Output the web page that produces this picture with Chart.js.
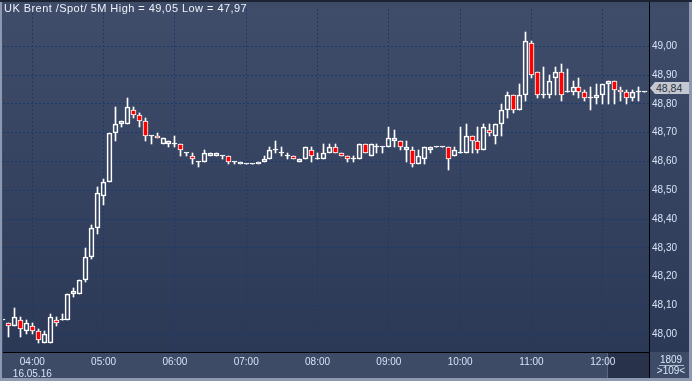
<!DOCTYPE html>
<html>
<head>
<meta charset="utf-8">
<script src="https://cdn.jsdelivr.net/npm/chart.js@4.4.1/dist/chart.umd.min.js"></script>
<style>
  html, body { margin: 0; padding: 0; background: #3e4b67; }
  #wrap { position: relative; width: 692px; height: 381px; overflow: hidden; }
  #wrap canvas { display: block; }
  .lbl { position: absolute; font-family: "Liberation Sans", Arial, sans-serif; font-size: 10px; color: #dbe6f6; white-space: nowrap; line-height: 11px; }
  #title { left: 4px; top: 3px; color: #eef2f9; font-size: 11px; letter-spacing: 0.45px; }
  #tag { left: 655px; top: 82px; width: 34px; height: 12px; background: #c4c8d0; color: #2a3242; padding-left: 1px; box-sizing: border-box; line-height: 12px; font-size: 10.5px; }
  #tag:before { content: ""; position: absolute; left: -5px; top: 0; border-style: solid; border-width: 6px 5px 6px 0; border-color: transparent #c4c8d0 transparent transparent; }
  #cnt { left: 656px; top: 354px; width: 30px; text-align: center; }
  #cntline { position: absolute; left: 659px; top: 365px; width: 25px; height: 1px; background: #aab6ca; }
  #bars { left: 656px; top: 365px; width: 30px; text-align: center; }
</style>
</head>
<body>
<div id="wrap">
  <canvas id="chart" width="692" height="381"></canvas>
  <div class="lbl" id="title">UK Brent /Spot/ 5M High = 49,05 Low = 47,97</div>
  <div class="lbl" id="tag">48,84</div>
  <div class="lbl" id="cnt">1809</div>
  <div id="cntline"></div>
  <div class="lbl" id="bars">&gt;109&lt;</div>
</div>
<script>
// 5 minute candles, 16.05.16
const times = [
  '03:35','03:40','03:45','03:50','03:55',
  '04:00','04:05','04:10','04:15','04:20','04:25','04:30','04:35','04:40','04:45','04:50','04:55',
  '05:00','05:05','05:10','05:15','05:20','05:25','05:30','05:35','05:40','05:45','05:50','05:55',
  '06:00','06:05','06:10','06:15','06:20','06:25','06:30','06:35','06:40','06:45','06:50','06:55',
  '07:00','07:05','07:10','07:15','07:20','07:25','07:30','07:35','07:40','07:45','07:50','07:55',
  '08:00','08:05','08:10','08:15','08:20','08:25','08:30','08:35','08:40','08:45','08:50','08:55',
  '09:00','09:05','09:10','09:15','09:20','09:25','09:30','09:35','09:40','09:45','09:50','09:55',
  '10:00','10:05','10:10','10:15','10:20','10:25','10:30','10:35','10:40','10:45','10:50','10:55',
  '11:00','11:05','11:10','11:15','11:20','11:25','11:30','11:35','11:40','11:45','11:50','11:55',
  '12:00','12:05','12:10','12:15','12:20','12:25','12:30','12:35'
];
const open = [
  48.05,48.04,48.03,48.05,48.01,
  48.03,48.01,47.97,47.97,48.05,48.05,48.05,48.14,48.14,48.19,48.27,48.37,
  48.48,48.53,48.70,48.73,48.73,48.78,48.76,48.74,48.69,48.69,48.66,48.66,
  48.66,48.66,48.63,48.62,48.60,48.60,48.62,48.62,48.62,48.62,48.60,48.59,
  48.59,48.59,48.59,48.60,48.61,48.64,48.63,48.62,48.62,48.60,48.61,48.64,
  48.61,48.61,48.63,48.65,48.63,48.62,48.61,48.61,48.66,48.62,48.65,48.65,
  48.65,48.67,48.67,48.64,48.64,48.59,48.61,48.64,48.65,48.65,48.65,48.62,
  48.63,48.63,48.69,48.67,48.64,48.71,48.69,48.73,48.78,48.83,48.78,48.83,
  49.01,48.91,48.83,48.83,48.89,48.91,48.84,48.84,48.86,48.84,48.82,48.82,
  48.83,48.87,48.88,48.85,48.84,48.82,48.84,48.84
];
const high = [
  48.05,48.04,48.09,48.06,48.05,
  48.04,48.02,48.01,48.07,48.06,48.07,48.14,48.16,48.19,48.30,48.38,48.51,
  48.54,48.70,48.79,48.74,48.82,48.79,48.77,48.75,48.69,48.70,48.68,48.67,
  48.69,48.66,48.63,48.63,48.60,48.64,48.63,48.63,48.62,48.62,48.60,48.60,
  48.59,48.59,48.60,48.62,48.65,48.67,48.65,48.63,48.62,48.61,48.65,48.65,
  48.63,48.66,48.66,48.66,48.63,48.62,48.62,48.66,48.66,48.66,48.66,48.65,
  48.72,48.71,48.67,48.67,48.65,48.64,48.65,48.65,48.65,48.65,48.65,48.65,
  48.72,48.73,48.69,48.72,48.73,48.73,48.73,48.80,48.84,48.83,48.87,49.05,
  49.02,48.91,48.93,48.90,48.93,48.94,48.92,48.88,48.89,48.85,48.86,48.87,
  48.87,48.88,48.88,48.86,48.85,48.85,48.86,48.84
];
const low = [
  48.05,47.99,48.03,47.99,48.00,
  48.00,47.97,47.97,47.97,48.03,48.05,48.05,48.13,48.14,48.18,48.26,48.35,
  48.45,48.53,48.67,48.72,48.73,48.75,48.72,48.67,48.66,48.68,48.66,48.65,
  48.65,48.62,48.62,48.59,48.58,48.60,48.62,48.62,48.61,48.59,48.59,48.59,
  48.59,48.59,48.59,48.60,48.61,48.63,48.62,48.61,48.61,48.60,48.61,48.60,
  48.61,48.61,48.63,48.63,48.62,48.60,48.60,48.61,48.63,48.62,48.63,48.63,
  48.65,48.65,48.64,48.60,48.58,48.59,48.59,48.63,48.65,48.65,48.57,48.62,
  48.63,48.63,48.63,48.63,48.64,48.69,48.66,48.69,48.75,48.77,48.78,48.81,
  48.89,48.82,48.82,48.82,48.83,48.81,48.84,48.83,48.82,48.81,48.78,48.80,
  48.80,48.80,48.80,48.81,48.80,48.81,48.81,48.84
];
const close = [
  48.05,48.03,48.06,48.02,48.04,
  48.01,47.98,48.00,48.06,48.04,48.05,48.14,48.15,48.19,48.27,48.37,48.49,
  48.53,48.70,48.73,48.74,48.79,48.76,48.74,48.69,48.69,48.68,48.68,48.67,
  48.66,48.64,48.63,48.61,48.60,48.63,48.63,48.63,48.62,48.60,48.60,48.60,
  48.59,48.59,48.60,48.61,48.64,48.64,48.63,48.62,48.61,48.61,48.65,48.62,
  48.61,48.63,48.65,48.63,48.62,48.61,48.61,48.66,48.63,48.66,48.65,48.65,
  48.68,48.68,48.65,48.65,48.59,48.62,48.65,48.65,48.65,48.65,48.61,48.64,
  48.63,48.69,48.67,48.64,48.72,48.70,48.73,48.78,48.83,48.78,48.83,49.02,
  48.90,48.83,48.83,48.88,48.91,48.83,48.84,48.86,48.84,48.82,48.82,48.83,
  48.87,48.88,48.85,48.84,48.82,48.84,48.84,48.84
];
const hourTicks = ['04:00','05:00','06:00','07:00','08:00','09:00','10:00','11:00','12:00'];
const dateLabel = '16.05.16';
const priceTicks = [48.0, 48.1, 48.2, 48.3, 48.4, 48.5, 48.6, 48.7, 48.8, 48.9, 49.0];

// visible window (minutes of day / price)
const X_MIN = 215.35, X_MAX = 758.9;
const Y_MIN = 47.9386, Y_MAX = 49.1297;

const GRID = '#1a3a6c';
const TICK = '#d6e2f5';
const FONT = { family: '"Liberation Sans", Arial, sans-serif', size: 10 };

const toMin = t => Number(t.slice(0, 2)) * 60 + Number(t.slice(3));
const fmtMin = m => String(Math.floor(m / 60)).padStart(2, '0') + ':' + String(m % 60).padStart(2, '0');

const bodies = times.map((t, i) => ({ x: toMin(t), y: [Math.min(open[i], close[i]), Math.max(open[i], close[i])] }));
const upperWicks = times.map((t, i) => ({ x: toMin(t), y: [Math.max(open[i], close[i]), high[i]] }));
const lowerWicks = times.map((t, i) => ({ x: toMin(t), y: [low[i], Math.min(open[i], close[i])] }));
const bodyFill = times.map((t, i) => close[i] < open[i] ? '#ff0000' : (close[i] === open[i] ? '#ffffff' : 'rgba(0,0,0,0)'));

const frame = {
  id: 'frame',
  beforeDraw(chart) {
    const { ctx, chartArea: a } = chart;
    ctx.save();
    ctx.fillStyle = '#3e4b67';
    ctx.fillRect(0, 0, chart.width, chart.height);
    const g = ctx.createLinearGradient(0, a.top, 0, a.bottom);
    g.addColorStop(0, '#3f4d6b');
    g.addColorStop(1, '#2b3957');
    ctx.fillStyle = g;
    ctx.fillRect(a.left, a.top, chart.width - 3 - a.left, a.bottom - a.top);
    // scroller box under the last time label
    ctx.fillStyle = '#28324a';
    ctx.fillRect(608, a.bottom, a.right - 608, chart.height - 3 - a.bottom);
    ctx.fillStyle = '#5c6680';
    ctx.fillRect(607, a.bottom, 1, chart.height - 3 - a.bottom);
    ctx.restore();
  },
  // snap candles to whole pixels so the 1px wicks and borders stay crisp
  beforeDatasetsDraw(chart) {
    chart.data.datasets.forEach((d, i) => {
      chart.getDatasetMeta(i).data.forEach(el => {
        el.x = Math.floor(el.x) + 0.5;
        const y = Math.round(el.y), b = Math.round(el.base);
        el.y = y;
        el.base = (i === 0 && y === b) ? y + 1 : b;
      });
    });
  },
  afterDraw(chart) {
    const { ctx, chartArea: a } = chart;
    ctx.save();
    ctx.fillStyle = '#000000';
    ctx.fillRect(a.right, 0, 1, chart.height - 3);
    ctx.fillRect(a.left, a.bottom, a.right - a.left, 1);
    // outer frame
    ctx.fillStyle = '#8d99b0';
    ctx.fillRect(0, 0, 2, chart.height);
    ctx.fillRect(0, chart.height - 3, chart.width, 3);
    ctx.fillRect(chart.width - 3, 0, 3, chart.height);
    ctx.fillStyle = '#1c2333';
    ctx.fillRect(0, 0, chart.width, 2);
    ctx.restore();
  }
};

new Chart(document.getElementById('chart'), {
  type: 'bar',
  data: {
    datasets: [
      { label: 'body', data: bodies, backgroundColor: bodyFill, borderColor: '#ffffff', borderWidth: 1,
        borderSkipped: false, barThickness: 5, minBarLength: 1, grouped: false },
      { label: 'upper wick', data: upperWicks, backgroundColor: '#ffffff', borderWidth: 0, barThickness: 1, grouped: false },
      { label: 'lower wick', data: lowerWicks, backgroundColor: '#ffffff', borderWidth: 0, barThickness: 1, grouped: false }
    ]
  },
  options: {
    responsive: false,
    animation: false,
    events: [],
    layout: { padding: { left: 3, top: 3, right: 3, bottom: 3 } },
    plugins: { legend: { display: false }, tooltip: { enabled: false } },
    scales: {
      x: {
        type: 'linear', min: X_MIN, max: X_MAX, offset: false,
        grid: { color: GRID, drawTicks: false, offset: false },
        border: { display: false, dash: [2, 2] },
        ticks: {
          color: TICK, font: FONT, padding: 4, maxRotation: 0, autoSkip: false,
          callback: v => v === toMin(hourTicks[0]) ? [fmtMin(v), dateLabel] : fmtMin(v)
        },
        afterBuildTicks: s => { s.ticks = hourTicks.map(t => ({ value: toMin(t) })); },
        afterFit: s => { s.height = 26; }
      },
      y: {
        position: 'right', min: Y_MIN, max: Y_MAX,
        grid: { color: GRID, drawTicks: false },
        border: { display: false, dash: [2, 2] },
        ticks: { color: TICK, font: FONT, padding: 3, callback: v => v.toFixed(2).replace('.', ',') },
        afterBuildTicks: s => { s.ticks = priceTicks.map(v => ({ value: v })); },
        afterFit: s => { s.width = 40; }
      }
    }
  },
  plugins: [frame]
});
</script>
</body>
</html>
